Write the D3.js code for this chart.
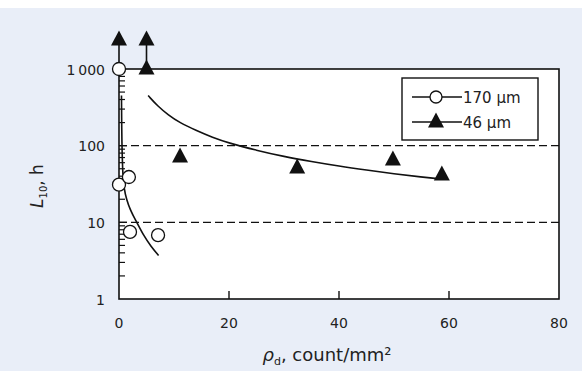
<!DOCTYPE html>
<html>
<head>
<meta charset="utf-8">
<script src="https://cdn.jsdelivr.net/npm/d3@7"></script>
<style>
  html, body { margin: 0; padding: 0; background: #ffffff; }
  svg { display: block; font-family: "DejaVu Sans", "Liberation Sans", Arial, sans-serif; }
</style>
</head>
<body>
<svg id="chart" width="582" height="371"></svg>
<script>
// Measured points, 170 µm particles: [density, L10]
const d170x = [0, 0, 1.8, 2, 7.1];
const d170y = [1000, 31, 39, 7.5, 6.8];
// Measured points, 46 µm particles
const d46x = [5, 11.1, 32.4, 49.8, 58.7];
const d46y = [1000, 71, 51, 65, 41.5];
// Suspended tests (run-outs) shown with arrows
const runoutX = [0, 5];
// Fitted trend lines
const fit170x = [0.45, 0.5, 0.6, 0.75, 1.0, 1.5, 2.2, 3.3, 4.5, 5.8, 7.2];
const fit170y = [450, 170, 70, 38, 27, 19, 14, 9.8, 6.8, 4.9, 3.7];
const fit46x = [5.3, 7, 9, 11, 14, 17, 20, 25, 30, 35, 40, 45, 50, 55, 59];
const fit46y = [450, 330, 250, 200, 158, 128, 108, 87, 72, 62, 54, 48, 43, 39, 36.5];
// Axes
const xTicks = [0, 20, 40, 60, 80];
const yTicks = [1, 10, 100, 1000];
const yTickLabels = ["1", "10", "100", "1\u2009000"];
const refLines = [10, 100];
const legendLabels = ["170 \u03bcm", "46 \u03bcm"];

const svg = d3.select("#chart");
const W = 582, H = 371;
const m = { left: 119, right: 559, top: 69, bottom: 299 };
const ink = "#111";

// background panel
svg.append("rect").attr("x", 0).attr("y", 8).attr("width", W).attr("height", H - 8)
  .attr("fill", "#e9eef8");
svg.append("rect").attr("x", m.left).attr("y", m.top)
  .attr("width", m.right - m.left).attr("height", m.bottom - m.top)
  .attr("fill", "#ffffff");

const x = d3.scaleLinear().domain([0, 80]).range([m.left, m.right]);
const y = d3.scaleLog().domain([1, 1000]).range([m.bottom, m.top]);

// dashed reference lines
svg.selectAll("line.ref").data(refLines).join("line")
  .attr("x1", m.left).attr("x2", m.right)
  .attr("y1", d => y(d)).attr("y2", d => y(d))
  .attr("stroke", ink).attr("stroke-width", 1.4)
  .attr("stroke-dasharray", "8,4");

// minor ticks on the left axis
const minor = [];
for (let dec = 1; dec < 1000; dec *= 10) for (let k = 2; k <= 9; k++) minor.push(dec * k);
svg.selectAll("line.ym").data(minor).join("line")
  .attr("x1", m.left).attr("x2", m.left + 6)
  .attr("y1", d => y(d)).attr("y2", d => y(d))
  .attr("stroke", ink).attr("stroke-width", 1.2);
svg.selectAll("line.yM").data(yTicks.slice(1, 3)).join("line")
  .attr("x1", m.left).attr("x2", m.left + 8)
  .attr("y1", d => y(d)).attr("y2", d => y(d))
  .attr("stroke", ink).attr("stroke-width", 1.2);

// x ticks pointing inward
svg.selectAll("line.xt").data(xTicks.slice(1, 4)).join("line")
  .attr("x1", d => x(d)).attr("x2", d => x(d))
  .attr("y1", m.bottom).attr("y2", m.bottom - 8)
  .attr("stroke", ink).attr("stroke-width", 1.4);

// frame
svg.append("rect").attr("x", m.left).attr("y", m.top)
  .attr("width", m.right - m.left).attr("height", m.bottom - m.top)
  .attr("fill", "none").attr("stroke", ink).attr("stroke-width", 1.6);

// tick labels
svg.selectAll("text.xl").data(xTicks).join("text")
  .attr("x", d => x(d)).attr("y", 328)
  .attr("text-anchor", "middle").attr("font-size", 14).attr("fill", "#222")
  .text(d => d);
svg.selectAll("text.yl").data(yTicks).join("text")
  .attr("x", 105).attr("y", d => y(d) + 5.5)
  .attr("text-anchor", "end").attr("font-size", 14).attr("fill", "#222")
  .text((d, i) => yTickLabels[i]);

// axis titles
const xt = svg.append("text").attr("x", 327).attr("y", 361)
  .attr("text-anchor", "middle").attr("font-size", 18).attr("fill", "#222");
xt.append("tspan").attr("font-style", "italic").text("\u03c1");
xt.append("tspan").attr("font-size", 11).attr("dy", 4).text("d");
xt.append("tspan").attr("dy", -4).text(", count/mm\u00b2");

const yt = svg.append("text")
  .attr("transform", "translate(43,186) rotate(-90)")
  .attr("text-anchor", "middle").attr("font-size", 17).attr("fill", "#222");
yt.append("tspan").attr("font-style", "italic").text("L");
yt.append("tspan").attr("font-size", 10).attr("dy", 4).text("10");
yt.append("tspan").attr("dy", -4).text(", h");

// fitted curves
const line = d3.line().x(d => x(d[0])).y(d => y(d[1])).curve(d3.curveMonotoneX);
const smooth = d3.line().x(d => x(d[0])).y(d => y(d[1])).curve(d3.curveBasis);
svg.append("path").datum(fit170x.map((v, i) => [v, fit170y[i]]))
  .attr("d", line).attr("fill", "none").attr("stroke", ink).attr("stroke-width", 1.6);
svg.append("path").datum(fit46x.map((v, i) => [v, fit46y[i]]))
  .attr("d", smooth).attr("fill", "none").attr("stroke", ink).attr("stroke-width", 1.6);

const tri = "M0,-9.5L8,5.5L-8,5.5Z";

// run-out arrows above the top of the scale
const arrowY = y(1000) - 29;
svg.selectAll("line.ar").data(runoutX).join("line")
  .attr("x1", d => x(d)).attr("x2", d => x(d))
  .attr("y1", arrowY).attr("y2", y(1000))
  .attr("stroke", ink).attr("stroke-width", 1.6);
svg.selectAll("path.ar").data(runoutX).join("path")
  .attr("d", tri).attr("transform", d => `translate(${x(d)},${arrowY})`)
  .attr("fill", ink);

// 46 µm markers
svg.selectAll("path.t46").data(d46x).join("path")
  .attr("d", tri).attr("transform", (d, i) => `translate(${x(d)},${y(d46y[i])})`)
  .attr("fill", ink);

// 170 µm markers
svg.selectAll("circle.c170").data(d170x).join("circle")
  .attr("cx", d => x(d)).attr("cy", (d, i) => y(d170y[i])).attr("r", 6.5)
  .attr("fill", "#fff").attr("stroke", ink).attr("stroke-width", 1.3);

// legend
const lg = svg.append("g");
lg.append("rect").attr("x", 402).attr("y", 78).attr("width", 136).attr("height", 62)
  .attr("fill", "#fff").attr("stroke", ink).attr("stroke-width", 1.4);
const rows = [97, 122];
rows.forEach((ry, i) => {
  lg.append("line").attr("x1", 412).attr("x2", 462).attr("y1", ry).attr("y2", ry)
    .attr("stroke", ink).attr("stroke-width", 1.3);
  if (i === 0) {
    lg.append("circle").attr("cx", 436).attr("cy", ry).attr("r", 6)
      .attr("fill", "#fff").attr("stroke", ink).attr("stroke-width", 1.3);
  } else {
    lg.append("path").attr("d", tri).attr("transform", `translate(436,${ry})`).attr("fill", ink);
  }
  lg.append("text").attr("x", 463).attr("y", ry + 5.5).attr("font-size", 15)
    .attr("fill", "#222").text(legendLabels[i]);
});
</script>
</body>
</html>
